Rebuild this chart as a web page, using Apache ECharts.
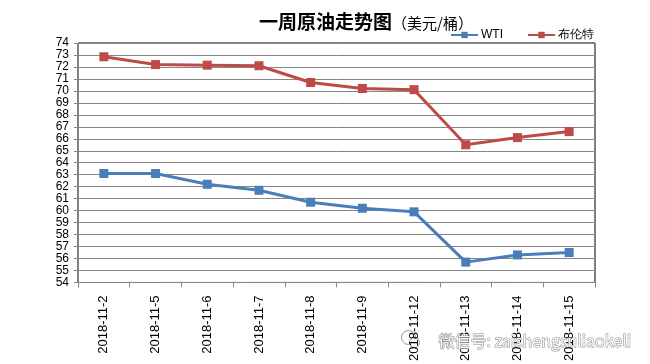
<!DOCTYPE html>
<html><head><meta charset="utf-8">
<script src="https://cdn.jsdelivr.net/npm/echarts@6/dist/echarts.min.js"></script>
<style>html,body{margin:0;padding:0;background:#fff}#c{width:650px;height:364px}</style>
</head><body><div id="c"></div>
<script>
const categories = ['2018-11-2','2018-11-5','2018-11-6','2018-11-7','2018-11-8','2018-11-9','2018-11-12','2018-11-13','2018-11-14','2018-11-15'];
const wti = [63.1, 63.1, 62.2, 61.7, 60.7, 60.2, 59.9, 55.7, 56.3, 56.5];
const brent = [72.85, 72.2, 72.15, 72.1, 70.7, 70.2, 70.1, 65.5, 66.1, 66.6];
const yTicks = {min: 54, max: 74, interval: 1};

const chart = echarts.init(document.getElementById('c'), null, {renderer: 'canvas'});
chart.setOption({
  animation: false,
  backgroundColor: '#fff',
  title: {
    text: '{a|一周原油走势图}{b|（美元/桶）}',
    left: 254, top: 0,
    textStyle: {
      fontWeight: 'normal',
      rich: {
        a: {fontFamily: 'Noto Sans CJK SC', fontWeight: 'bold', fontSize: 19, color: '#000', verticalAlign: 'bottom', lineHeight: 26},
        b: {fontFamily: 'Noto Sans CJK SC', fontWeight: 'normal', fontSize: 15, color: '#000', verticalAlign: 'bottom', lineHeight: 24}
      }
    }
  },
  legend: {
    left: 445, top: 24,
    itemWidth: 27, itemHeight: 8, itemGap: 24,
    textStyle: {fontFamily: 'Liberation Sans', fontSize: 12, color: '#000', padding: [0,0,0,-2]},
    data: ['WTI', '布伦特']
  },
  grid: {left: 78, right: 55, top: 43, bottom: 79, show: true, borderColor: '#000', borderWidth: 1, containLabel: false},
  xAxis: {
    type: 'category', data: categories, boundaryGap: true,
    axisLine: {lineStyle: {color: '#868686', width: 1}},
    axisTick: {show: true, length: 5, lineStyle: {color: '#868686'}},
    axisLabel: {rotate: 90, fontFamily: 'Liberation Sans', fontSize: 13, color: '#000', margin: 13, interval: 0},
    splitLine: {show: false}
  },
  yAxis: {
    type: 'value', min: yTicks.min, max: yTicks.max, interval: yTicks.interval,
    axisLine: {show: true, lineStyle: {color: '#868686', width: 1}},
    axisTick: {show: true, length: 4, lineStyle: {color: '#868686'}},
    axisLabel: {fontFamily: 'Liberation Sans', fontSize: 12, color: '#000', margin: 9},
    splitLine: {show: true, lineStyle: {color: '#868686', width: 1}}
  },
  series: [
    {name: 'WTI', type: 'line', data: wti, symbol: 'rect', symbolSize: 9,
     lineStyle: {color: '#4A7EBB', width: 3}, itemStyle: {color: '#4A7EBB'}},
    {name: '布伦特', type: 'line', data: brent, symbol: 'rect', symbolSize: 9,
     lineStyle: {color: '#BE4B48', width: 3}, itemStyle: {color: '#BE4B48'}}
  ],
  graphic: [
    {type: 'group', left: 401, top: 330, z: 100, children: [
      {type: 'circle', shape: {cx: 8, cy: 9, r: 7}, style: {fill: '#fff', stroke: '#999', lineWidth: 1}},
      {type: 'circle', shape: {cx: 14, cy: 14, r: 5}, style: {fill: '#fff', stroke: '#999', lineWidth: 1}}
    ]},
    {type: 'text', left: 438, top: 332, z: 100,
     style: {text: '微信号: zaishengsuliaokeli', font: '16px "Noto Sans CJK SC"', fill: '#f8f8f8', stroke: '#8a8a8a', lineWidth: 1}}
  ]
});
</script></body></html>
